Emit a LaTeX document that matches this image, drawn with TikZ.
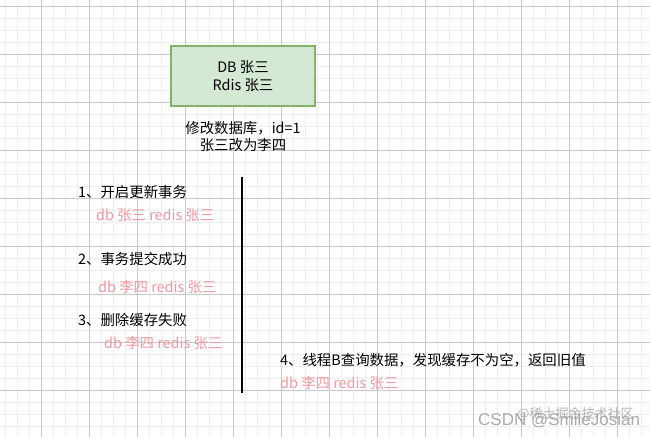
\documentclass[tikz,border=0pt]{standalone}
\usepackage{fontspec}
\setmainfont{Noto Sans CJK SC}
\newfontfamily\wmfont{Liberation Sans}
\definecolor{boxfill}{HTML}{D5E8D4}
\definecolor{boxline}{HTML}{82B366}
\definecolor{pinktxt}{RGB}{242,152,162}
\definecolor{gridmajor}{RGB}{200,200,200}
\definecolor{gridminor}{RGB}{238,238,238}
\definecolor{wmgray}{RGB}{150,150,150}
\begin{document}
\begin{tikzpicture}[x=1pt,y=-1pt,
  txt/.style={inner sep=0pt,font=\fontsize{14.4}{17}\selectfont,text=black},
  pink/.style={txt,text=pinktxt},
  statebox/.style={draw=boxline,fill=boxfill,line width=1.2pt,minimum width=144pt,minimum height=60pt,inner sep=0pt,align=center,font=\fontsize{14.4}{18}\selectfont},
  timeline/.style={line width=2.6pt,black}
]
\useasboundingbox (0,0) rectangle (650,437);
\fill[white] (0,0) rectangle (650,437);
% grid
\foreach \i in {0,...,53} {\draw[gridminor,line width=0.8pt] (5+12*\i,0) -- (5+12*\i,437);}
\foreach \i in {0,...,36} {\draw[gridminor,line width=0.8pt] (0,6+12*\i) -- (650,6+12*\i);}
\foreach \i in {0,...,12} {\draw[gridmajor,line width=0.9pt] (41+48*\i,0) -- (41+48*\i,437);}
\foreach \i in {0,...,8} {\draw[gridmajor,line width=0.9pt] (0,6+48*\i) -- (650,6+48*\i);}
% box
\node[statebox] (box) at (243,76) {DB 张三\\Rdis 张三};
\node[txt,align=center] (upd) at (243,136.5) {修改数据库，id=1\\张三改为李四};
% timeline
\coordinate (ltop) at (242,177);
\coordinate (lbot) at (242,393);
\draw[timeline] (ltop) -- (lbot);
% steps
\node[txt,anchor=west] (s1) at (78,192) {1、开启更新事务};
\node[pink,anchor=west] (p1) at (96,215) {db 张三 redis 张三};
\node[txt,anchor=west] (s2) at (78,259) {2、事务提交成功};
\node[pink,anchor=west] (p2) at (98,287) {db 李四 redis 张三};
\node[txt,anchor=west] (s3) at (78,320) {3、删除缓存失败};
\node[pink,anchor=west] (p3) at (104,343) {db 李四 redis 张三};
\node[txt,anchor=west] (s4) at (280,360) {4、线程B查询数据，发现缓存不为空，返回旧值};
\node[pink,anchor=west] (p4) at (280,383) {db 李四 redis 张三};
% watermark
\node[inner sep=0pt,anchor=west,text=wmgray,text opacity=0.7,font=\fontsize{13}{13}\selectfont] (wm2) at (517,414) {@稀土掘金技术社区};
\node[inner sep=0pt,anchor=west,text=wmgray,text opacity=0.8,font=\wmfont\fontsize{17}{17}\selectfont] (wm1) at (478,421) {CSDN @SmileJosian};
\end{tikzpicture}
\end{document}
